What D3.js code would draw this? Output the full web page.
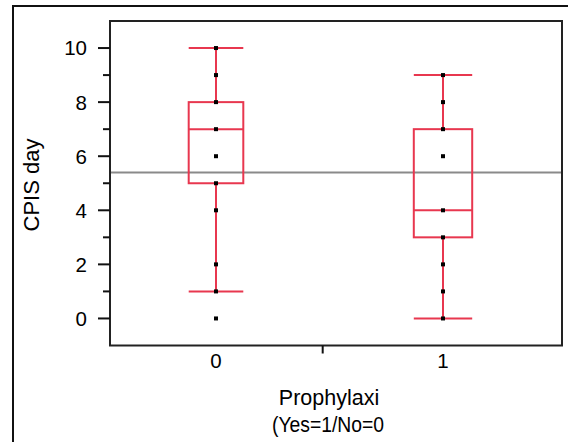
<!DOCTYPE html>
<meta charset="utf-8">
<style>
  body { margin: 0; background: #fff; }
  svg { font-family: "Liberation Sans", Arial, sans-serif; }
</style>
<script src="https://d3js.org/d3.v7.min.js"></script>
<body>
<script>

const width = 568;
const height = 442;

// data
const groups = ["0", "1"];
const q1 = [5, 3];
const median = [7, 4];
const q3 = [8, 7];
const whiskerLow = [1, 0];
const whiskerHigh = [10, 9];
const points0 = [0, 1, 2, 4, 5, 6, 7, 8, 9, 10];
const points1 = [0, 1, 2, 3, 4, 6, 7, 8, 9];
const grandMean = 5.4;
const yTicks = [0, 2, 4, 6, 8, 10];
const yMinor = [1, 3, 5, 7, 9];

const red = "#e8374f";
const boxHalf = [27.3, 29.2];

const plot = {left: 110, right: 562, top: 21, bottom: 345.5};

const y = d3.scaleLinear().domain([-1, 11]).range([plot.bottom, plot.top]);
const x = d3.scaleLinear().domain([0, 1]).range([216, 443]);

const svg = d3.select("body").append("svg")
              .attr("width", width)
              .attr("height", height);

// outer frame (top + left only)
svg.append("path")
   .attr("d", `M13,442V6H568`)
   .attr("fill", "none")
   .attr("stroke", "#111")
   .attr("stroke-width", 2);

// mean line
svg.append("line")
   .attr("x1", plot.left).attr("x2", plot.right)
   .attr("y1", y(grandMean)).attr("y2", y(grandMean))
   .attr("stroke", "#8a8a8a")
   .attr("stroke-width", 2);

// boxes
const bg = svg.append("g").attr("class", "boxes")
              .attr("fill", "none")
              .attr("stroke", red)
              .attr("stroke-width", 2);

groups.forEach((g, i) => {
  const cx = x(+g);
  const hw = boxHalf[i];
  bg.append("line").attr("x1", cx).attr("x2", cx)
    .attr("y1", y(whiskerHigh[i])).attr("y2", y(q3[i]));
  bg.append("line").attr("x1", cx).attr("x2", cx)
    .attr("y1", y(q1[i])).attr("y2", y(whiskerLow[i]));
  bg.append("line").attr("x1", cx - hw).attr("x2", cx + hw)
    .attr("y1", y(whiskerHigh[i])).attr("y2", y(whiskerHigh[i]));
  bg.append("line").attr("x1", cx - hw).attr("x2", cx + hw)
    .attr("y1", y(whiskerLow[i])).attr("y2", y(whiskerLow[i]));
  bg.append("rect").attr("x", cx - hw).attr("width", 2 * hw)
    .attr("y", y(q3[i])).attr("height", y(q1[i]) - y(q3[i]));
  bg.append("line").attr("x1", cx - hw).attr("x2", cx + hw)
    .attr("y1", y(median[i])).attr("y2", y(median[i]));
});

// points
const pts = points0.map(v => ({g: 0, v})).concat(points1.map(v => ({g: 1, v})));
svg.append("g").attr("class", "points")
   .selectAll("rect")
   .data(pts)
   .enter().append("rect")
   .attr("x", d => x(d.g) - 2)
   .attr("y", d => y(d.v) - 2)
   .attr("width", 4)
   .attr("height", 4)
   .attr("fill", "#000");

// plot frame
svg.append("rect")
   .attr("x", plot.left).attr("y", plot.top)
   .attr("width", plot.right - plot.left)
   .attr("height", plot.bottom - plot.top)
   .attr("fill", "none")
   .attr("stroke", "#222")
   .attr("stroke-width", 2);

// y axis
const yAxis = svg.append("g");
yAxis.selectAll("line.major")
     .data(yTicks)
     .enter().append("line")
     .attr("x1", 98).attr("x2", plot.left)
     .attr("y1", d => y(d)).attr("y2", d => y(d))
     .attr("stroke", "#111").attr("stroke-width", 2);
yAxis.selectAll("line.minor")
     .data(yMinor)
     .enter().append("line")
     .attr("x1", 103).attr("x2", plot.left)
     .attr("y1", d => y(d)).attr("y2", d => y(d))
     .attr("stroke", "#111").attr("stroke-width", 2);
yAxis.selectAll("text")
     .data(yTicks)
     .enter().append("text")
     .attr("x", 87)
     .attr("y", d => y(d))
     .attr("dy", "0.36em")
     .attr("text-anchor", "end")
     .attr("font-size", 20.5)
     .text(d => d);

// x axis
svg.append("line")
   .attr("x1", x(0.47)).attr("x2", x(0.47))
   .attr("y1", plot.bottom).attr("y2", plot.bottom + 8)
   .attr("stroke", "#111").attr("stroke-width", 2);
svg.selectAll("text.xt")
   .data(groups)
   .enter().append("text")
   .attr("class", "xt")
   .attr("x", d => x(+d))
   .attr("y", 368)
   .attr("text-anchor", "middle")
   .attr("font-size", 20.5)
   .text(d => d);

// titles
svg.append("text")
   .attr("transform", "translate(39,185) rotate(-90)")
   .attr("text-anchor", "middle")
   .attr("font-size", 22)
   .text("CPIS day");

svg.append("text")
   .attr("x", 329).attr("y", 405)
   .attr("text-anchor", "middle")
   .attr("font-size", 21.5)
   .text("Prophylaxi");
svg.append("text")
   .attr("x", 328).attr("y", 432)
   .attr("text-anchor", "middle")
   .attr("font-size", 21.5)
   .attr("textLength", 112)
   .attr("lengthAdjust", "spacingAndGlyphs")
   .text("(Yes=1/No=0");
</script>
</body>
